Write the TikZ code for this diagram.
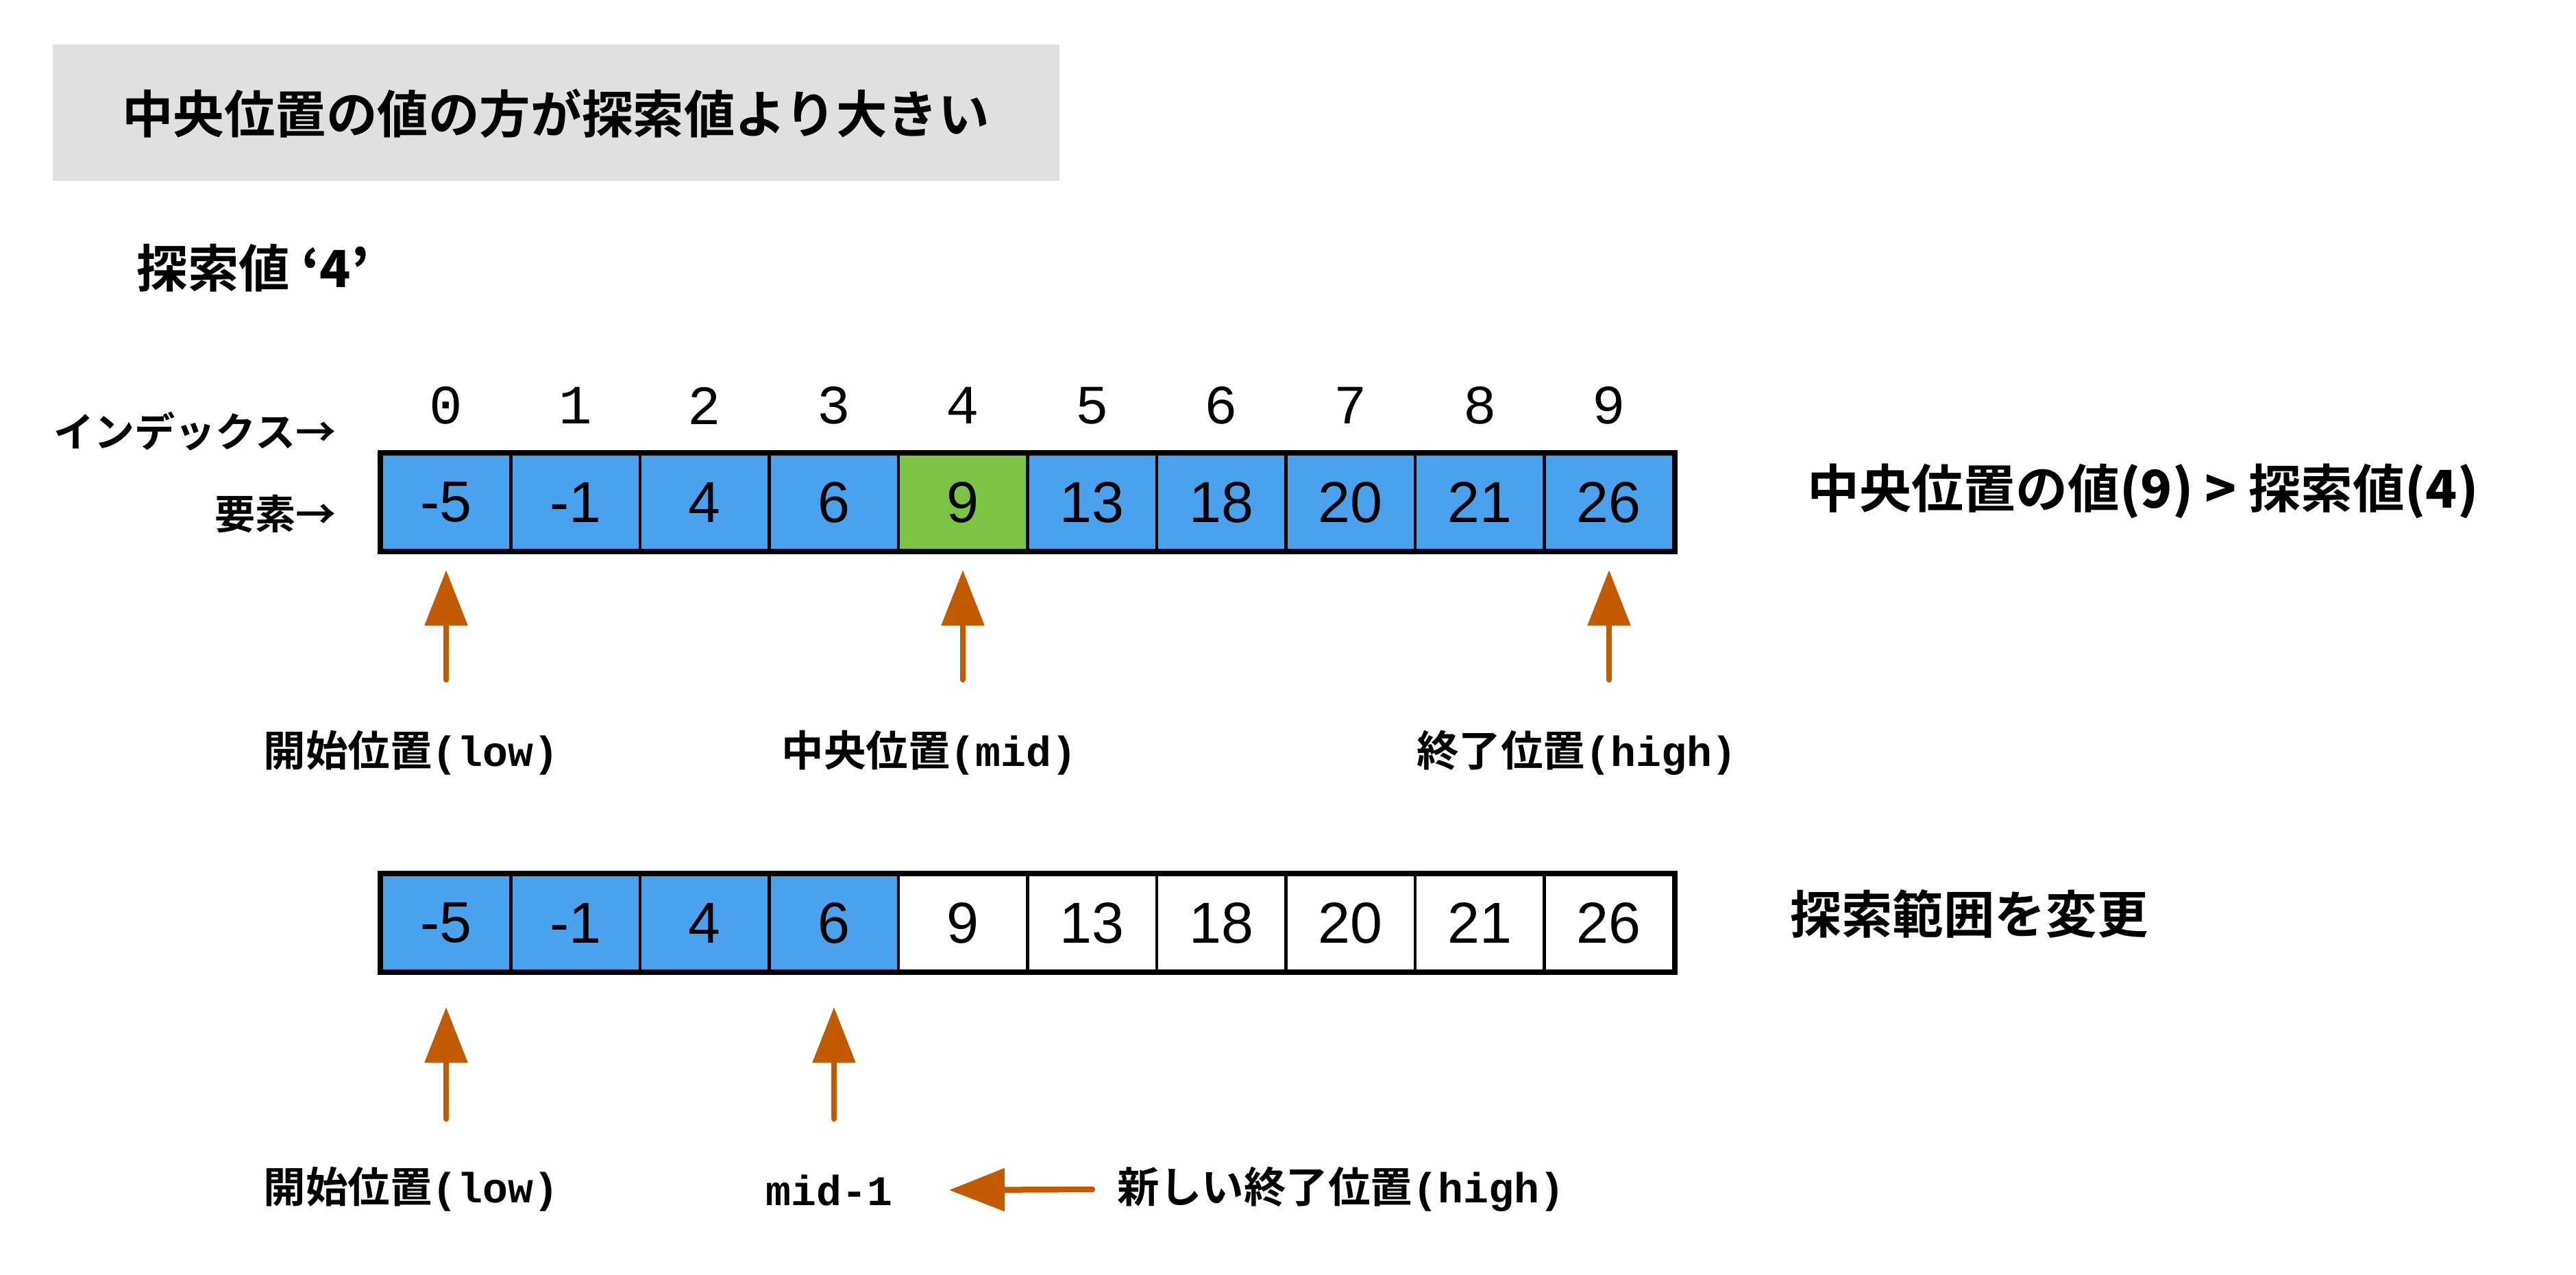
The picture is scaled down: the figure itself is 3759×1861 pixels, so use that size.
\documentclass[tikz,border=0pt]{standalone}
\usepackage{fontspec}
\setmainfont{Liberation Sans}
\newfontfamily\jp{Noto Sans CJK JP Bold}
\newfontfamily\mono{Liberation Mono}
\usetikzlibrary{arrows.meta}
\definecolor{cellblue}{RGB}{74,162,239}
\definecolor{cellgreen}{RGB}{122,195,67}
\definecolor{titlegray}{RGB}{224,224,224}
\definecolor{ptrorange}{RGB}{193,90,0}
\newcommand{\fs}[1]{\fontsize{#1pt}{#1pt}\selectfont}
\begin{document}
\begin{tikzpicture}[x=0.01cm,y=-0.01cm,
  cell/.style={draw=black, line width=0.045cm, minimum width=1.885cm, minimum height=1.40cm, inner sep=0pt, font=\fs{24}},
  idx/.style={inner sep=0pt, font=\mono\fs{23}},
  big/.style={inner sep=0pt, font=\jp\fs{21.2}},
  lbl/.style={inner sep=0pt, font=\jp\fs{17.5}},
  rowlbl/.style={inner sep=0pt, font=\jp\fs{16.8}},
  ptr/.style={draw=ptrorange, line width=0.085cm, line cap=round, -{Triangle[width=0.61cm, length=0.81cm]}},
  outer/.style={draw=black, line width=0.08cm}]
\useasboundingbox (0,0) rectangle (3759,1861);
% title
\node[fill=titlegray, minimum width=14.69cm, minimum height=1.99cm, inner sep=0pt] (titlebox) at (811.5,164.5) {};
\node[big] (title) at (811,166) {中央位置の値の方が探索値より大きい};
\node[big, anchor=west] (target) at (199,391) {探索値{\bfseries\ ‘4’}};
% row labels
\node[rowlbl, anchor=east] (idxlbl) at (491,630) {インデックス→};
\node[rowlbl, anchor=east] (ellbl) at (491,750) {要素→};
% top array
\foreach \v [count=\i from 0] in {-5,-1,4,6,9,13,18,20,21,26}{
  \pgfmathsetmacro{\cx}{557+188.5*(\i+0.5)}
  \node[idx] (i\i) at (\cx,592) {\i};
  \ifnum\i=4
    \node[cell, fill=cellgreen] (c\i) at (\cx,733) {\v};
  \else
    \node[cell, fill=cellblue] (c\i) at (\cx,733) {\v};
  \fi
}
\draw[outer] (c0.north west) rectangle (c9.south east);
% bottom array
\foreach \v [count=\i from 0] in {-5,-1,4,6,9,13,18,20,21,26}{
  \pgfmathsetmacro{\cx}{557+188.5*(\i+0.5)}
  \ifnum\i<4
    \node[cell, fill=cellblue] (d\i) at (\cx,1347) {\v};
  \else
    \node[cell, fill=white] (d\i) at (\cx,1347) {\v};
  \fi
}
\draw[outer] (d0.north west) rectangle (d9.south east);
% right labels
\node[big, anchor=west, font=\jp\fs{21.6}] (cmp) at (2637,717) {中央位置の値{\bfseries(9) > }探索値{\bfseries(4)}};
\node[big, anchor=west] (chg) at (2612,1334) {探索範囲を変更};
% top pointers
\coordinate (h0) at (651,832);  \coordinate (t0) at (651,992);
\coordinate (h4) at (1405,832); \coordinate (t4) at (1405,992);
\coordinate (h9) at (2348,832); \coordinate (t9) at (2348,992);
\draw[ptr] (t0) -- (h0);
\draw[ptr] (t4) -- (h4);
\draw[ptr] (t9) -- (h9);
\node[lbl] (low1) at (600,1099) {開始位置{\mono\bfseries(low)}};
\node[lbl] (mid1) at (1356,1099) {中央位置{\mono\bfseries(mid)}};
\node[lbl] (high1) at (2301,1099) {終了位置{\mono\bfseries(high)}};
% bottom pointers
\coordinate (g0) at (651,1470); \coordinate (s0) at (651,1633);
\coordinate (g3) at (1217,1470); \coordinate (s3) at (1217,1633);
\draw[ptr] (s0) -- (g0);
\draw[ptr] (s3) -- (g3);
\node[lbl] (low2) at (600,1736) {開始位置{\mono\bfseries(low)}};
\node[lbl, font=\mono\bfseries\fs{17.5}] (midm) at (1210,1737) {mid-1};
\node[lbl, anchor=west] (newhigh) at (1630,1736) {新しい終了位置{\mono\bfseries(high)}};
\draw[ptr] (newhigh.west -| 1594,0) -- (midm.east -| 1385,0);
\end{tikzpicture}
\end{document}
